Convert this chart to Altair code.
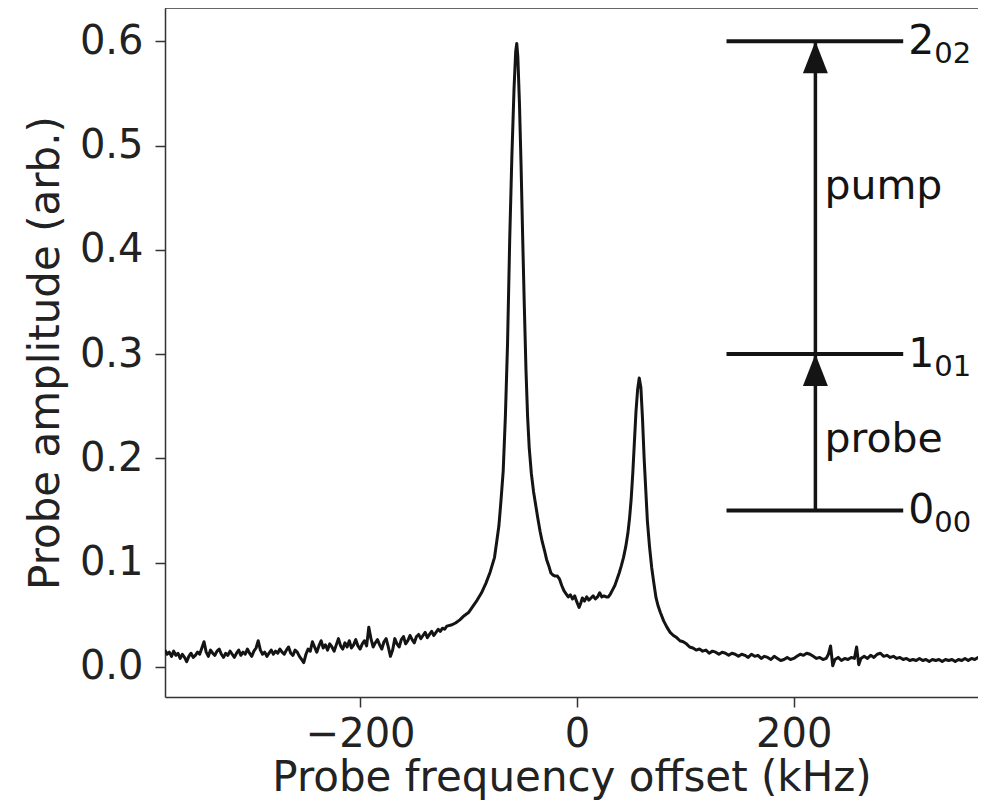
import altair as alt
import pandas as pd

# ---- spectrum (three segments) ----
freq_left = list(range(-380, -119, 2))
amp_left = [0.016, 0.012, 0.014, 0.010, 0.015, 0.011, 0.013, 0.008, 0.012, 0.009,
            0.005, 0.010, 0.013, 0.009, 0.011, 0.014, 0.012, 0.018, 0.024, 0.014,
            0.010, 0.016, 0.013, 0.011, 0.015, 0.017, 0.012, 0.009, 0.013, 0.011,
            0.015, 0.012, 0.009, 0.013, 0.016, 0.011, 0.014, 0.012, 0.017, 0.013,
            0.010, 0.015, 0.018, 0.025, 0.016, 0.012, 0.014, 0.010, 0.013, 0.016,
            0.012, 0.015, 0.013, 0.017, 0.014, 0.012, 0.016, 0.019, 0.013, 0.011,
            0.016, 0.014, 0.010, 0.007, 0.004, 0.012, 0.017, 0.015, 0.024, 0.019,
            0.014, 0.020, 0.025, 0.018, 0.021, 0.016, 0.022, 0.019, 0.015, 0.021,
            0.027, 0.020, 0.017, 0.023, 0.019, 0.025, 0.018, 0.021, 0.026, 0.020,
            0.017, 0.022, 0.025, 0.020, 0.038, 0.027, 0.019, 0.023, 0.026, 0.021,
            0.017, 0.024, 0.027, 0.019, 0.010, 0.016, 0.027, 0.022, 0.019, 0.026,
            0.029, 0.022, 0.025, 0.030, 0.026, 0.023, 0.029, 0.031, 0.027, 0.030,
            0.033, 0.028, 0.031, 0.034, 0.030, 0.033, 0.036, 0.034, 0.037, 0.036,
            0.039]

freq_mid = [-116, -112, -108, -104, -100, -96, -92, -88, -84, -80, -76,
            -74, -72, -70, -68, -66, -64, -62, -60, -58, -56.5, -55.5, -54.5, -53, -51.5,
            -50, -48.5, -47, -45.5, -44, -42, -40, -38, -36, -34, -32, -30, -28, -26,
            -24, -22, -20, -18, -16, -14, -12, -10, -8, -6, -4, -2, 0, 2, 3.5,
            5, 7, 9, 11, 13, 15, 17, 19, 21, 23, 25, 27, 29, 31, 33,
            35, 37, 39, 41, 43, 45, 47, 48.5, 50, 51.5, 53, 54.5, 56, 57.5, 59,
            60.5, 62, 63.5, 65, 67, 69, 71, 73, 75, 77, 80, 83, 86, 89, 92,
            95, 98, 101, 104, 107, 110]
amp_mid = [0.040, 0.042, 0.045, 0.049, 0.052, 0.058, 0.064, 0.071, 0.080, 0.091, 0.105,
           0.120, 0.135, 0.160, 0.188, 0.240, 0.310, 0.410, 0.490, 0.555, 0.590, 0.598, 0.585, 0.540, 0.480,
           0.410, 0.345, 0.285, 0.240, 0.210, 0.185, 0.168, 0.155, 0.142, 0.130, 0.120, 0.112, 0.103, 0.097,
           0.090, 0.088, 0.087, 0.087, 0.084, 0.078, 0.073, 0.070, 0.067, 0.069, 0.065, 0.068, 0.062, 0.057, 0.061,
           0.066, 0.063, 0.067, 0.064, 0.066, 0.068, 0.065, 0.067, 0.071, 0.067, 0.068, 0.067, 0.067, 0.070, 0.074,
           0.078, 0.084, 0.090, 0.097, 0.105, 0.115, 0.128, 0.142, 0.160, 0.185, 0.215, 0.245, 0.266, 0.277, 0.268,
           0.238, 0.200, 0.170, 0.140, 0.115, 0.095, 0.080, 0.066, 0.058, 0.052, 0.044, 0.038, 0.033, 0.030, 0.028,
           0.025, 0.024, 0.022, 0.019, 0.018, 0.016]

freq_right = [113, 116, 119, 122, 125, 128, 131, 134, 137, 140, 143, 146, 149, 152, 155,
              158, 161, 164, 167, 170, 173, 176, 179, 182, 185, 188, 191, 194, 197, 200,
              203, 206, 209, 212, 215, 218, 221, 224, 227, 230, 232, 234, 236, 238, 241,
              244, 247, 250, 253, 256, 258, 260, 262, 265, 268, 271, 274, 277, 280, 283,
              286, 289, 292, 295, 298, 301, 304, 307, 310, 313, 316, 319, 322, 325, 328,
              331, 334, 337, 340, 343, 346, 349, 352, 355, 358, 361, 364, 367, 370, 373, 376]
amp_right = [0.017, 0.015, 0.016, 0.013, 0.015, 0.014, 0.012, 0.014, 0.013, 0.011, 0.013, 0.012, 0.010, 0.012, 0.011,
             0.009, 0.012, 0.010, 0.011, 0.008, 0.010, 0.009, 0.007, 0.010, 0.008, 0.006, 0.007, 0.009, 0.007, 0.008,
             0.010, 0.012, 0.011, 0.013, 0.012, 0.010, 0.008, 0.009, 0.007, 0.008, 0.012, 0.020, 0.001, 0.007, 0.009,
             0.006, 0.008, 0.007, 0.009, 0.008, 0.019, 0.002, 0.008, 0.010, 0.008, 0.011, 0.009, 0.012, 0.013, 0.010,
             0.011, 0.009, 0.010, 0.008, 0.009, 0.007, 0.008, 0.006, 0.007, 0.006, 0.008, 0.006, 0.007, 0.005, 0.007,
             0.006, 0.007, 0.005, 0.007, 0.006, 0.007, 0.005, 0.007, 0.006, 0.008, 0.006, 0.008, 0.007, 0.009, 0.008, 0.009]

assert len(freq_left) == len(amp_left)
assert len(freq_mid) == len(amp_mid)
assert len(freq_right) == len(amp_right)

# ---- energy-level inset ----
level_main = ["0", "1", "2"]
level_sub = ["00", "01", "02"]
level_y = [0.15, 0.30, 0.60]
level_x_start = [138, 138, 138]
level_x_end = [301, 301, 301]
arrow_x = [220, 220]
arrow_from = [0.15, 0.30]
arrow_to = [0.30, 0.60]
arrow_text = ["probe", "pump"]
arrow_text_y = [0.206, 0.449]

x_ticks = [-200, 0, 200]
y_ticks = [0.0, 0.1, 0.2, 0.3, 0.4, 0.5, 0.6]

FONT = "DejaVu Sans"
INK = "#141414"
AXC = "#333333"
W, H = 813, 689

spec_df = pd.DataFrame({"f": freq_left + freq_mid + freq_right,
                        "a": amp_left + amp_mid + amp_right})
lev_df = pd.DataFrame({"x0": level_x_start, "x1": level_x_end, "y": level_y,
                       "main": level_main, "sub": level_sub})
arr_df = pd.DataFrame({"x": arrow_x, "y0": arrow_from, "y1": arrow_to,
                       "label": arrow_text, "ly": arrow_text_y})

xscale = alt.Scale(domain=[-380, 370], nice=False, zero=False)
yscale = alt.Scale(domain=[-0.029, 0.632], nice=False, zero=False)
XT = "Probe frequency offset (kHz)"
YT = "Probe amplitude (arb.)"

xaxis = alt.Axis(values=x_ticks, format="d", tickSize=10, tickWidth=1.5, tickColor=AXC,
                 domainColor=AXC, domainWidth=1.5, labelFontSize=40, labelFont=FONT,
                 labelColor="#222222", labelPadding=7, labelOverlap=False, labelFlush=False,
                 titleFontSize=42, titleFont=FONT, titleFontWeight="normal",
                 titleColor="#222222", titlePadding=3, grid=False)
yaxis = alt.Axis(values=y_ticks, format=".1f", tickSize=10, tickWidth=1.5, tickColor=AXC,
                 domainColor=AXC, domainWidth=1.5, labelFontSize=40, labelFont=FONT,
                 labelColor="#222222", labelPadding=12, labelOverlap=False, labelFlush=False,
                 titleFontSize=42, titleFont=FONT, titleFontWeight="normal",
                 titleColor="#222222", titlePadding=12, grid=False)


def X(field):
    return alt.X(field, type="quantitative", scale=xscale, axis=xaxis, title=XT)


def Y(field):
    return alt.Y(field, type="quantitative", scale=yscale, axis=yaxis, title=YT)


spectrum = alt.Chart(spec_df).mark_line(color=INK, strokeWidth=3, clip=True,
                                        strokeJoin="round").encode(
    x=X("f"), y=Y("a"), order="f:Q")

levels = alt.Chart(lev_df).mark_rule(color=INK, strokeWidth=4).encode(
    x=X("x0"), x2="x1", y=Y("y"))

shafts = alt.Chart(arr_df).mark_rule(color=INK, strokeWidth=3.5).encode(
    x=X("x"), y=Y("y0"), y2="y1")

heads = alt.Chart(arr_df).mark_point(
    shape="M0,-1L-0.78,1L0.78,1Z", size=1024, filled=True, fill=INK, color=INK,
    opacity=1, strokeWidth=0, yOffset=16).encode(x=X("x"), y=Y("y1"))

arrow_labels = alt.Chart(arr_df).mark_text(
    align="left", baseline="alphabetic", fontSize=41, font=FONT, color=INK, dx=9).encode(
    x=X("x"), y=Y("ly"), text="label:N")

main_labels = alt.Chart(lev_df).mark_text(
    align="left", baseline="middle", fontSize=41, font=FONT, color=INK, dx=5, dy=1).encode(
    x=X("x1"), y=Y("y"), text="main:N")

sub_labels = alt.Chart(lev_df).mark_text(
    align="left", baseline="middle", fontSize=29, font=FONT, color=INK, dx=31, dy=13).encode(
    x=X("x1"), y=Y("y"), text="sub:N")

top_spine = alt.Chart(pd.DataFrame({"k": [0]})).mark_rule(color=AXC, strokeWidth=1.5).encode(
    x=alt.value(0), x2=alt.value(W), y=alt.value(0))

chart = alt.layer(spectrum, levels, shafts, heads, arrow_labels, main_labels, sub_labels,
                  top_spine).properties(
    width=W, height=H,
    autosize=alt.AutoSizeParams(type="none"),
    padding={"left": 157, "top": 0, "right": 0, "bottom": 103},
    background="white",
).configure_view(stroke=None)

chart.save("out.html", embed_options={"renderer": "svg", "actions": False})
